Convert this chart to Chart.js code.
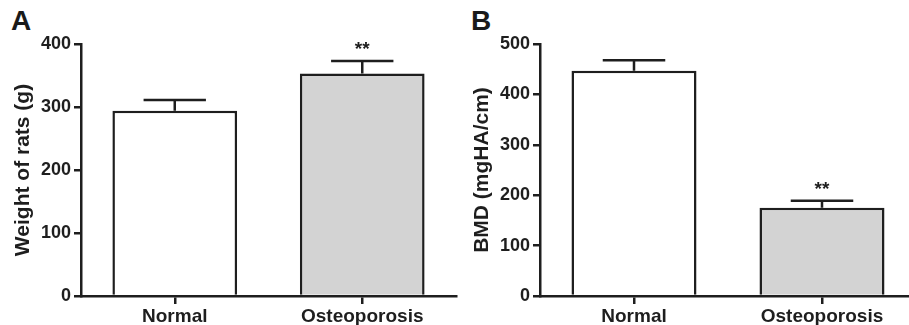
<!DOCTYPE html>
<html lang="en"><head>
<meta charset="utf-8"/>
<title>Weight and BMD</title>
<script src="https://cdn.jsdelivr.net/npm/chart.js"></script>
<style>
        html, body {
            margin: 0;
            padding: 0;
            background: #fff;
            overflow: hidden;
            width: 909px;
            height: 325px;
            font-family: 'Liberation Sans', Arial, sans-serif;
        }
        .panel { position: absolute; top: 0; }
        .letter {
            position: absolute;
            font-weight: bold;
            font-size: 28px;
            color: #1a1a1a;
        }
    </style>
</head>
<body>
<div class="letter" style="left: 11px; top: 5px;">A</div>
<div class="letter" style="left: 471px; top: 5px;">B</div>
<div class="panel" style="left: 0px;"><canvas id="chartA" width="460" height="325"></canvas></div>
<div class="panel" style="left: 460px;"><canvas id="chartB" width="460" height="325"></canvas></div>
<script>
        const categories = ['Normal', 'Osteoporosis'];
        const weightMean = [294, 353];
        const weightErr = [17, 20];
        const bmdMean = [447, 175];
        const bmdErr = [21, 14];
        const significance = ['', '**'];
        const weightTicks = { max: 400, step: 100 };
        const bmdTicks = { max: 500, step: 100 };

        const ink = '#1e1e1e';
        const fillColors = ['#ffffff', '#d3d3d3'];
        const fontFamily = "'Liberation Sans', Arial, sans-serif";

        // upper whisker + significance stars, placed through the y scale
        const errorBars = {
            id: 'errorBars',
            afterDatasetsDraw(chart, args, opts) {
                const ctx = chart.ctx;
                const y = chart.scales.y;
                const meta = chart.getDatasetMeta(0);
                ctx.save();
                ctx.strokeStyle = ink;
                ctx.lineWidth = 2.5;
                ctx.fillStyle = ink;
                ctx.font = 'bold 19px ' + fontFamily;
                ctx.textAlign = 'center';
                ctx.textBaseline = 'middle';
                meta.data.forEach((bar, i) => {
                    const base = y.getPixelForValue(opts.mean[i]);
                    const top = y.getPixelForValue(opts.mean[i] + opts.err[i]);
                    const half = bar.width / 4;
                    ctx.beginPath();
                    ctx.moveTo(bar.x, base);
                    ctx.lineTo(bar.x, top);
                    ctx.moveTo(bar.x - half, top);
                    ctx.lineTo(bar.x + half, top);
                    ctx.stroke();
                    if (opts.sig[i]) {
                        ctx.fillText(opts.sig[i], bar.x, top - 11);
                    }
                });
                ctx.restore();
            }
        };

        function makeChart(id, mean, err, ticks, title, yWidth, titleOffset) {
            const ctx = document.getElementById(id).getContext('2d');
            return new Chart(ctx, {
                type: 'bar',
                data: {
                    labels: categories,
                    datasets: [{
                        data: mean,
                        backgroundColor: fillColors,
                        borderColor: ink,
                        borderWidth: 2.5,
                        borderSkipped: 'start',
                        barPercentage: 0.665,
                        categoryPercentage: 1.0
                    }]
                },
                options: {
                    responsive: false,
                    animation: false,
                    layout: { padding: { top: 44, right: 4, left: 0, bottom: 0 } },
                    scales: {
                        x: {
                            offset: true,
                            afterFit: (scale) => { scale.height = 29; },
                            grid: {
                                drawOnChartArea: false,
                                offset: false,
                                tickLength: 8,
                                lineWidth: 2.5,
                                color: ink
                            },
                            border: { display: true, color: ink, width: 2.5 },
                            ticks: {
                                color: ink,
                                padding: 1,
                                font: { family: fontFamily, size: 19, weight: 'bold' }
                            }
                        },
                        y: {
                            min: 0,
                            max: ticks.max,
                            afterFit: (scale) => { scale.width = yWidth; },
                            grid: {
                                drawOnChartArea: false,
                                tickLength: 7,
                                lineWidth: 2.5,
                                color: ink
                            },
                            border: { display: true, color: ink, width: 2.5 },
                            ticks: {
                                stepSize: ticks.step,
                                color: ink,
                                padding: 3,
                                font: { family: fontFamily, size: 18, weight: 'bold' }
                            },
                            title: {
                                display: true,
                                text: title,
                                color: ink,
                                padding: { top: titleOffset, bottom: 0 },
                                font: { family: fontFamily, size: 21, weight: 'bold', lineHeight: 1.2 }
                            }
                        }
                    },
                    plugins: {
                        legend: { display: false },
                        tooltip: { enabled: false },
                        errorBars: { mean: mean, err: err, sig: significance }
                    }
                },
                plugins: [errorBars]
            });
        }

        makeChart('chartA', weightMean, weightErr, weightTicks, 'Weight of rats (g)', 81, 11);
        makeChart('chartB', bmdMean, bmdErr, bmdTicks, 'BMD (mgHA/cm)', 80, 10);
    </script>
</body></html>
